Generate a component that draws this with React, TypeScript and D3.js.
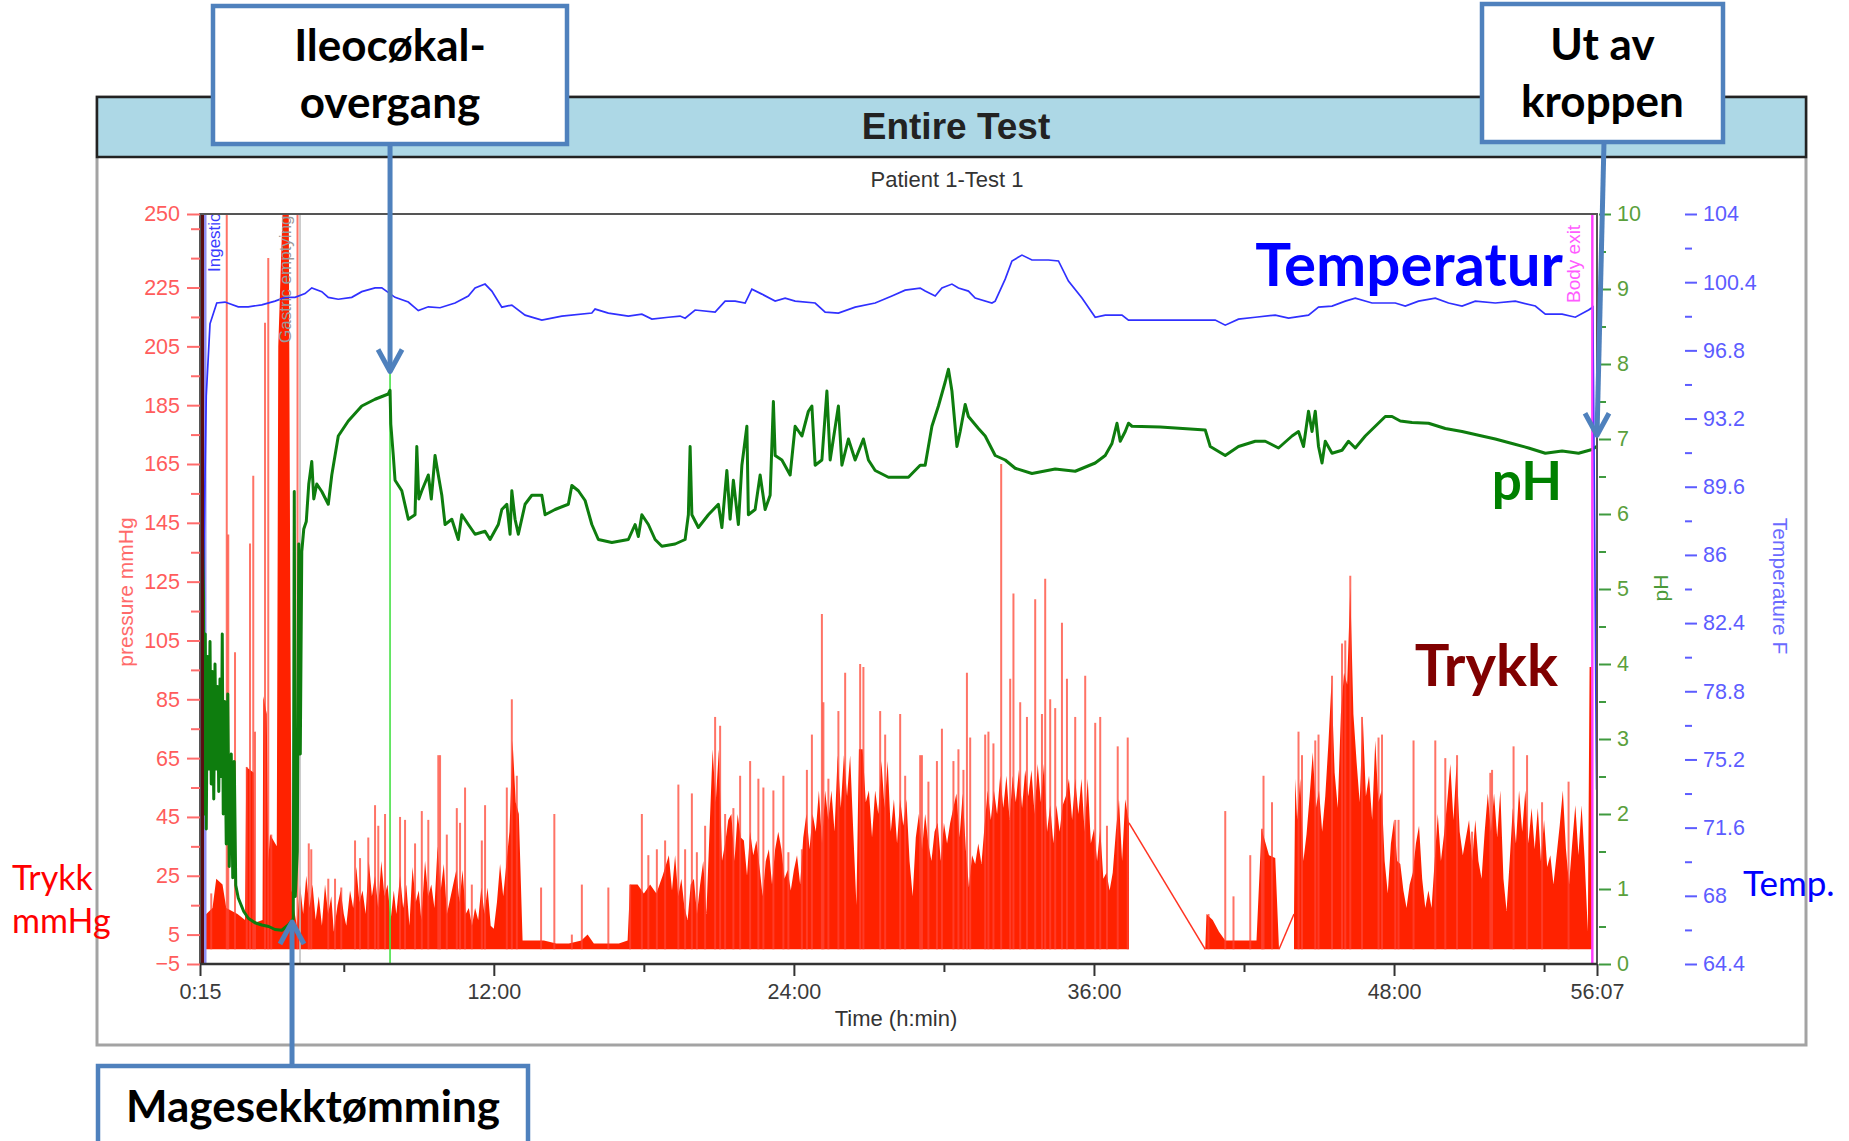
import React, { useRef, useEffect } from 'react';
import * as d3 from 'd3';

// all times are hours since start (0:15 .. 56:07)
type Pt = [number, number];

// pressure mmHg (filled), null = gap in the recording
const pressure: (Pt | null)[] = [
  [0.25, 11], [0.5, 12], [0.75, 14], [0.9, 24], [1.15, 22], [1.3, 14], [1.75, 12], [2.05, 10], [2.1, 62], [2.4, 60],
  [2.45, 9], [2.75, 10], [2.78, 86], [2.92, 80], [2.98, 30], [3.05, 39], [3.32, 35], [3.38, 205], [3.55, 250], [3.8, 250],
  [3.86, 120], [3.92, 20], [4.0, 14], [4.125, 8], [4.25, 22], [4.375, 12], [4.5, 25], [4.625, 14], [4.75, 22], [4.875, 10],
  [5.0, 18], [5.125, 8], [5.25, 22], [5.375, 12], [5.5, 18], [5.6, 6], [5.75, 15], [5.875, 20], [6.0, 12], [6.1, 8],
  [6.25, 20], [6.375, 14], [6.5, 28], [6.625, 16], [6.75, 20], [6.875, 12], [7.0, 30], [7.125, 18], [7.25, 25], [7.375, 14],
  [7.5, 30], [7.625, 18], [7.75, 22], [7.875, 10], [8.0, 20], [8.1, 12], [8.25, 25], [8.375, 14], [8.5, 22], [8.625, 8],
  [8.75, 28], [8.875, 16], [9.0, 20], [9.1, 10], [9.25, 30], [9.375, 18], [9.5, 22], [9.625, 14], [9.75, 35], [9.875, 20],
  [10.0, 29], [10.125, 12], [10.25, 17], [10.375, 22], [10.5, 27], [10.625, 16], [10.75, 27], [10.875, 12], [11.0, 14], [11.125, 8],
  [11.25, 14], [11.375, 10], [11.5, 21], [11.625, 12], [11.75, 21], [11.875, 8], [12.0, 7], [12.125, 16], [12.25, 29], [12.375, 18],
  [12.5, 29], [12.625, 40], [12.75, 71], [12.875, 50], [13.0, 46], [13.15, 3], [13.5, 3], [14.0, 3], [14.5, 2], [15.0, 2],
  [15.5, 3], [15.75, 5], [16.0, 2], [16.5, 2], [17.0, 2], [17.35, 3], [17.45, 22], [17.75, 22], [18.0, 19], [18.25, 22],
  [18.5, 19], [18.75, 25],
  [19.0, 32], [19.125, 20], [19.25, 32], [19.375, 18], [19.5, 24], [19.625, 14], [19.75, 10], [19.875, 22], [20.0, 24], [20.125, 12],
  [20.25, 22], [20.375, 30], [20.5, 12], [20.625, 40], [20.75, 68], [20.875, 50], [21.0, 68], [21.125, 30], [21.25, 36], [21.375, 44],
  [21.5, 46], [21.625, 30], [21.75, 46], [21.875, 38], [22.0, 37], [22.125, 25], [22.25, 40], [22.375, 32], [22.5, 37], [22.625, 28],
  [22.75, 18], [22.875, 30], [23.0, 34], [23.125, 22], [23.25, 34], [23.375, 40], [23.5, 34], [23.625, 24], [23.75, 27], [23.875, 20],
  [24.0, 27], [24.125, 32], [24.25, 22], [24.375, 38], [24.5, 46], [24.625, 34], [24.75, 46], [24.875, 40], [25.0, 54], [25.125, 36],
  [25.25, 54], [25.375, 44], [25.5, 54], [25.625, 40], [25.75, 66], [25.875, 48], [26.0, 66], [26.125, 52], [26.25, 66], [26.375, 40],
  [26.5, 15], [26.6, 68], [26.75, 68], [26.875, 50], [27.0, 54], [27.125, 38], [27.25, 54], [27.375, 46], [27.5, 64], [27.625, 48],
  [27.75, 64], [27.875, 40], [28.0, 51], [28.125, 36], [28.25, 51], [28.375, 42], [28.5, 51], [28.625, 30], [28.75, 18], [28.875, 38],
  [29.0, 46], [29.125, 34], [29.25, 46], [29.375, 36], [29.5, 30], [29.625, 40], [29.75, 43], [29.875, 30], [30.0, 43], [30.125, 36],
  [30.25, 43], [30.375, 48], [30.5, 53], [30.625, 38], [30.75, 53], [30.875, 34], [31.0, 21], [31.125, 32], [31.25, 29], [31.375, 36],
  [31.5, 29], [31.625, 42], [31.75, 54], [31.875, 44], [32.0, 54], [32.125, 46], [32.25, 59], [32.375, 48], [32.5, 59], [32.625, 44],
  [32.75, 59], [32.875, 50], [33.0, 61], [33.125, 48], [33.25, 61], [33.375, 52], [33.5, 61], [33.625, 46], [33.75, 63], [33.875, 50],
  [34.0, 63], [34.125, 40], [34.25, 49], [34.375, 36], [34.5, 49], [34.625, 40], [34.75, 49], [34.875, 52], [35.0, 58], [35.125, 44],
  [35.25, 58], [35.375, 46], [35.5, 58], [35.625, 40], [35.75, 58], [35.875, 36], [36.0, 41], [36.125, 30], [36.25, 41], [36.375, 24],
  [36.5, 26], [36.625, 20], [36.75, 26], [36.875, 40], [37.0, 51], [37.125, 30], [37.25, 51], [37.4, 43],
  null,
  [40.45, 0], [40.5, 12], [40.75, 10], [41.0, 6], [41.25, 3], [41.5, 3], [42.0, 3], [42.5, 3], [42.7, 41], [43.0, 32],
  [43.25, 31], [43.4, 0],
  null,
  [44.0, 12], [44.05, 58], [44.125, 44], [44.25, 58], [44.375, 30], [44.5, 39], [44.625, 52], [44.75, 67], [44.875, 48], [45.0, 54],
  [45.125, 40], [45.25, 52], [45.375, 70], [45.5, 91], [45.625, 60], [45.75, 48], [45.875, 80], [46.0, 94], [46.125, 90], [46.25, 123],
  [46.375, 80], [46.5, 64], [46.625, 50], [46.75, 79], [46.875, 52], [47.0, 59], [47.125, 44], [47.25, 71], [47.375, 50], [47.5, 54],
  [47.625, 30], [47.75, 19], [47.875, 36], [48.0, 44], [48.125, 30], [48.25, 29], [48.375, 20], [48.5, 14], [48.625, 22], [48.75, 26],
  [48.875, 36], [49.0, 42], [49.125, 24], [49.25, 14], [49.375, 20], [49.5, 14], [49.625, 30], [49.75, 46], [49.875, 30], [50.0, 39],
  [50.125, 50], [50.25, 63], [50.375, 44], [50.5, 63], [50.625, 40], [50.75, 32], [50.875, 38], [51.0, 44], [51.125, 30], [51.25, 44],
  [51.375, 30], [51.5, 24], [51.625, 40], [51.75, 53], [51.875, 40], [52.0, 53], [52.125, 38], [52.25, 54], [52.375, 24], [52.5, 13],
  [52.625, 30], [52.75, 48], [52.875, 36], [53.0, 54], [53.125, 40], [53.25, 54], [53.375, 36], [53.5, 48], [53.625, 34], [53.75, 48],
  [53.875, 30], [54.0, 44], [54.125, 28], [54.25, 32], [54.375, 22], [54.5, 32], [54.625, 42], [54.75, 54], [54.875, 34], [55.0, 22],
  [55.125, 36], [55.25, 49], [55.375, 32], [55.5, 49], [55.625, 30], [55.75, 6], [55.82, 96], [55.9, 96], [55.95, 0],
];

// thin pressure peaks above the filled mass
const pressureSpikes: Pt[] = [
  [0.7, 19], [1.32, 260], [1.38, 141], [1.65, 101], [2.12, 62], [2.25, 138], [2.38, 161], [2.45, 74], [2.85, 213], [2.98, 235],
  [3.1, 39], [4.15, 260], [4.6, 36], [4.7, 34], [5.38, 24], [5.65, 24], [5.9, 21], [6.45, 37], [6.65, 31], [6.98, 38],
  [7.25, 49], [7.38, 42], [7.65, 46], [8.25, 45], [8.45, 44], [8.85, 36], [9.12, 47], [9.38, 44], [9.78, 66], [9.85, 66],
  [10.12, 39], [10.52, 48], [10.65, 43], [10.85, 55], [11.12, 22], [11.52, 37], [11.65, 49], [12.52, 55], [12.72, 85], [12.92, 59],
  [13.89, 21], [14.42, 46], [15.12, 5], [15.52, 22], [16.58, 21], [17.45, 22], [17.92, 46], [18.18, 32], [18.52, 34], [18.85, 37],
  [19.38, 56], [19.65, 34], [19.92, 53], [20.12, 33], [20.45, 42], [20.85, 79], [21.05, 76], [21.25, 46], [21.58, 48], [21.85, 59],
  [22.25, 64], [22.58, 58], [22.78, 55], [23.18, 54], [23.58, 59], [23.78, 33], [24.32, 34], [24.52, 61], [24.72, 73], [25.12, 114],
  [25.18, 84], [25.38, 58], [25.78, 81], [26.05, 94], [26.65, 97], [26.78, 96], [27.45, 81], [27.65, 73], [28.25, 80], [28.45, 59],
  [29.05, 66], [29.12, 66], [29.38, 57], [29.72, 64], [29.92, 75], [30.38, 64], [30.58, 68], [30.78, 61], [30.92, 94], [31.05, 72],
  [31.65, 73], [31.78, 74], [31.98, 70], [32.29, 165], [32.65, 92], [32.78, 121], [33.05, 84], [33.32, 79], [33.65, 119], [33.92, 80],
  [34.05, 126], [34.25, 85], [34.45, 82], [34.72, 111], [34.92, 92], [35.25, 79], [35.65, 93], [36.05, 77], [36.25, 79], [36.52, 42],
  [36.95, 69], [37.35, 72], [40.58, 12], [41.25, 47], [41.58, 18], [42.25, 32], [42.72, 41], [42.78, 59], [43.12, 50], [44.18, 74],
  [44.32, 66], [44.85, 71], [44.98, 73], [45.52, 93], [45.92, 104], [46.05, 105], [46.25, 127], [46.72, 79], [47.38, 72], [47.52, 73],
  [48.05, 44], [48.18, 44], [48.78, 71], [49.65, 71], [50.05, 65], [50.52, 66], [51.12, 40], [51.85, 60], [51.92, 61], [52.78, 69],
  [53.32, 66], [53.92, 50], [54.98, 57],
];

const phData: Pt[] = [
  [0.25, 6.1], [0.38, 6.0], [0.42, 2.0], [0.46, 4.4], [0.5, 1.8], [0.55, 4.1], [0.6, 2.6], [0.65, 4.3], [0.7, 2.4], [0.75, 3.9],
  [0.8, 2.2], [0.85, 4.0], [0.9, 2.6], [0.95, 3.7], [1.0, 2.3], [1.05, 3.8], [1.1, 2.5], [1.14, 4.4], [1.18, 2.0], [1.24, 3.5],
  [1.3, 1.6], [1.36, 3.6], [1.42, 1.3], [1.5, 2.8], [1.56, 1.15], [1.62, 2.7], [1.68, 1.05], [1.78, 0.88], [2.0, 0.7], [2.18, 0.61],
  [2.45, 0.55], [2.72, 0.52], [3.0, 0.5], [3.25, 0.46], [3.52, 0.45], [3.78, 0.52], [3.98, 0.6], [4.02, 6.3], [4.06, 0.9], [4.14, 1.5],
  [4.2, 5.6], [4.26, 2.8], [4.32, 5.5], [4.4, 5.8], [4.5, 5.9], [4.6, 6.4], [4.72, 6.7], [4.8, 6.2], [4.92, 6.4], [5.12, 6.3],
  [5.38, 6.13], [5.52, 6.52], [5.78, 7.04], [6.18, 7.24], [6.72, 7.44], [7.25, 7.53], [7.78, 7.6], [7.85, 7.65], [7.88, 7.2], [7.98, 6.78],
  [8.05, 6.45], [8.32, 6.31], [8.58, 5.93], [8.85, 5.99], [8.92, 6.9], [9.0, 6.2], [9.12, 6.31], [9.38, 6.52], [9.5, 6.2], [9.65, 6.78],
  [9.78, 6.52], [9.92, 6.25], [10.05, 5.86], [10.32, 5.93], [10.58, 5.66], [10.72, 5.99], [10.98, 5.86], [11.25, 5.73], [11.65, 5.77], [11.85, 5.66],
  [12.18, 5.86], [12.32, 6.06], [12.52, 6.13], [12.65, 5.73], [12.72, 6.31], [12.85, 5.93], [12.98, 5.73], [13.25, 6.13], [13.52, 6.25], [13.92, 6.25],
  [14.05, 5.99], [14.45, 6.06], [14.98, 6.13], [15.12, 6.38], [15.38, 6.31], [15.65, 6.18], [15.92, 5.86], [16.18, 5.66], [16.72, 5.62], [17.38, 5.66],
  [17.65, 5.86], [17.78, 5.7], [17.92, 5.99], [18.18, 5.86], [18.45, 5.66], [18.72, 5.57], [19.25, 5.6], [19.65, 5.66], [19.78, 5.99], [19.85, 6.9],
  [19.92, 5.99], [20.18, 5.82], [20.58, 5.99], [20.98, 6.13], [21.12, 5.82], [21.32, 6.58], [21.45, 5.93], [21.58, 6.45], [21.78, 5.86], [21.92, 6.65],
  [22.12, 7.17], [22.18, 5.99], [22.45, 6.06], [22.65, 6.52], [22.85, 6.06], [23.05, 6.25], [23.18, 7.5], [23.25, 6.78], [23.52, 6.72], [23.85, 6.52],
  [24.05, 7.17], [24.32, 7.04], [24.58, 7.37], [24.72, 7.44], [24.85, 6.65], [25.12, 6.72], [25.32, 7.64], [25.45, 6.72], [25.78, 7.44], [25.92, 6.65],
  [26.18, 7.0], [26.45, 6.72], [26.78, 7.0], [26.98, 6.72], [27.25, 6.58], [27.78, 6.49], [28.58, 6.49], [29.05, 6.65], [29.25, 6.65], [29.52, 7.17],
  [29.78, 7.44], [30.05, 7.76], [30.18, 7.93], [30.32, 7.64], [30.52, 6.9], [30.65, 7.1], [30.85, 7.46], [30.98, 7.3], [31.38, 7.14], [31.65, 7.04],
  [32.05, 6.78], [32.45, 6.72], [32.85, 6.61], [33.52, 6.54], [34.45, 6.6], [35.25, 6.57], [36.05, 6.68], [36.45, 6.78], [36.72, 6.94], [36.92, 7.21],
  [37.05, 6.97], [37.25, 7.1], [37.38, 7.21], [37.52, 7.17], [38.65, 7.16], [40.45, 7.12], [40.65, 6.9], [41.25, 6.78], [41.78, 6.9], [42.45, 6.97],
  [42.85, 6.97], [43.38, 6.88], [43.92, 7.04], [44.18, 7.1], [44.38, 6.9], [44.58, 7.37], [44.72, 7.1], [44.85, 7.37], [44.98, 6.9], [45.12, 6.68],
  [45.25, 6.97], [45.52, 6.81], [45.92, 6.85], [46.18, 6.97], [46.45, 6.88], [46.85, 7.04], [47.25, 7.17], [47.65, 7.3], [47.92, 7.3], [48.25, 7.24],
  [48.72, 7.22], [49.38, 7.21], [50.05, 7.14], [50.72, 7.1], [51.38, 7.05], [52.05, 7.0], [52.72, 6.94], [53.38, 6.88], [54.05, 6.81], [54.72, 6.84],
  [55.38, 6.81], [55.92, 6.86], [56.1, 6.9],
];

const tempData: Pt[] = [
  [0.25, 73.6], [0.35, 81.4], [0.5, 94.4], [0.65, 98.2], [0.92, 99.3], [1.25, 99.35], [1.78, 99.1], [2.18, 99.1], [2.72, 99.2], [3.25, 99.4],
  [3.65, 99.6], [4.05, 99.6], [4.45, 99.8], [4.72, 100.1], [5.12, 99.9], [5.38, 99.6], [5.78, 99.5], [6.32, 99.6], [6.72, 99.9], [7.25, 100.1],
  [7.52, 100.1], [8.05, 99.6], [8.58, 99.35], [8.98, 98.9], [9.38, 99.1], [9.85, 99.05], [10.45, 99.3], [10.98, 99.67], [11.25, 100.09], [11.65, 100.3],
  [11.92, 99.93], [12.32, 99.08], [12.72, 99.19], [13.25, 98.66], [13.65, 98.5], [13.92, 98.4], [14.72, 98.61], [15.92, 98.77], [16.05, 98.98], [16.58, 98.77],
  [17.38, 98.61], [17.92, 98.71], [18.32, 98.45], [18.98, 98.55], [19.45, 98.61], [19.65, 98.5], [20.05, 98.93], [20.85, 98.82], [21.25, 99.4], [21.65, 99.4],
  [22.05, 99.3], [22.32, 100.03], [22.72, 99.77], [23.25, 99.4], [23.65, 99.56], [24.05, 99.4], [24.85, 99.3], [25.25, 98.82], [25.78, 98.77], [26.45, 99.08],
  [27.25, 99.3], [27.92, 99.67], [28.45, 99.98], [29.05, 100.09], [29.25, 99.93], [29.65, 99.67], [29.92, 100.09], [30.32, 100.3], [30.58, 100.09], [30.98, 99.93],
  [31.25, 99.56], [31.92, 99.3], [32.05, 99.4], [32.45, 100.56], [32.72, 101.52], [33.12, 101.83], [33.52, 101.57], [34.18, 101.57], [34.58, 101.52], [34.98, 100.46],
  [35.52, 99.56], [36.05, 98.55], [36.45, 98.66], [37.12, 98.66], [37.38, 98.4], [38.65, 98.4], [40.85, 98.4], [41.25, 98.13], [41.78, 98.45], [42.45, 98.55],
  [43.25, 98.66], [43.78, 98.5], [44.58, 98.66], [44.98, 99.08], [45.52, 99.14], [46.05, 99.4], [46.45, 99.56], [47.12, 99.3], [47.78, 99.3], [48.05, 99.3],
  [48.45, 99.14], [48.98, 99.4], [49.65, 99.56], [50.18, 99.3], [50.72, 99.14], [51.25, 99.4], [52.05, 99.3], [52.85, 99.4], [53.65, 99.14], [54.05, 98.71],
  [54.72, 98.71], [55.25, 98.55], [55.78, 98.93], [55.95, 99.08], [56.03, 86], [56.1, 73.6],
];

const timeTicks = [0.25, 12, 24, 36, 48, 56.1167];
const timeLabels = ['0:15', '12:00', '24:00', '36:00', '48:00', '56:07'];
const timeMinor = [6, 18, 30, 42, 54];
const pressureTicks = [250, 225, 205, 185, 165, 145, 125, 105, 85, 65, 45, 25, 5, -5];
const pressureMinor = [245, 235, 215, 195, 175, 155, 135, 115, 95, 75, 55, 35, 15];
const phTicks = [0, 1, 2, 3, 4, 5, 6, 7, 8, 9, 10];
const phMinor = [0.5, 1.5, 2.5, 3.5, 4.5, 5.5, 6.5, 7.5, 8.5, 9.5];
const tempTicks = [64.4, 68, 71.6, 75.2, 78.8, 82.4, 86, 89.6, 93.2, 96.8, 100.4, 104];
const tempLabels = ['64.4', '68', '71.6', '75.2', '78.8', '82.4', '86', '89.6', '93.2', '96.8', '100.4', '104'];
const tempMinor = [66.2, 69.8, 73.4, 77, 80.6, 84.2, 87.8, 91.4, 95, 98.6, 102.2];

const events = [
  { t: 0.45, label: 'Ingestion', line: '#8f8ff2', text: '#3b3bff', dx: 15, width: 3, base: 272, size: 17 },
  { t: 4.25, label: 'Gastric emptying', line: '#bdbdbd', text: '#9a9a9a', dx: -9, width: 1.5, base: 343, size: 17 },
  { t: 7.85, label: '', line: '#45e045', text: '#45e045', dx: 0, width: 1.6, base: 0, size: 0 },
  { t: 55.93, label: 'Body exit', line: '#ff3dff', text: '#ff5cff', dx: -12, width: 2, base: 303, size: 19 },
];

const ileoTime = 7.85;
const gastricTime = 3.93;
const exitTime = 56.1167;

const W = 1849;
const H = 1141;
const plot = { left: 200, right: 1597, top: 214, bottom: 964 };
const tickFont = '"Liberation Sans", Arial, sans-serif';
const callFont = 'Lato, "Open Sans", sans-serif';
const calloutBlue = '#4f81bd';

const App = () => {
  const ref = useRef<SVGSVGElement>(null);

  useEffect(() => {
    if (!ref.current) return;
    const svg = d3.select(ref.current);
    svg.selectAll('*').remove();

    const x = d3.scaleLinear().domain([0.25, 56.1167]).range([plot.left, plot.right]);
    const yP = d3.scaleLinear().domain([-5, 250]).range([plot.bottom, plot.top]);
    const yPH = d3.scaleLinear().domain([0, 10]).range([plot.bottom, plot.top]);
    const yT = d3.scaleLinear().domain([64.4, 104]).range([plot.bottom, plot.top]);

    // outer frame and title band
    svg.append('rect').attr('x', 97).attr('y', 97).attr('width', 1709).attr('height', 948)
      .attr('fill', '#fff').attr('stroke', '#a3a3a3').attr('stroke-width', 3);
    svg.append('rect').attr('x', 97).attr('y', 97).attr('width', 1709).attr('height', 60)
      .attr('fill', '#add8e6').attr('stroke', '#222').attr('stroke-width', 2.5);
    svg.append('text').attr('x', 956).attr('y', 139).attr('text-anchor', 'middle')
      .attr('font-family', tickFont).attr('font-weight', 'bold').attr('font-size', 37).attr('fill', '#222')
      .text('Entire Test');
    svg.append('text').attr('x', 947).attr('y', 187).attr('text-anchor', 'middle')
      .attr('font-family', tickFont).attr('font-size', 22).attr('fill', '#333')
      .text('Patient 1-Test 1');

    svg.append('defs').append('clipPath').attr('id', 'plotClip')
      .append('rect').attr('x', plot.left).attr('y', plot.top)
      .attr('width', plot.right - plot.left).attr('height', plot.bottom - plot.top);

    const g = svg.append('g').attr('clip-path', 'url(#plotClip)');

    // pressure mass
    const area = d3.area<Pt | null>()
      .defined(d => d !== null)
      .x(d => x((d as Pt)[0]))
      .y0(yP(0))
      .y1(d => yP((d as Pt)[1]));
    g.append('path').attr('d', area(pressure) as string).attr('fill', '#ff2200');

    // straight lines bridging the gaps
    pressure.forEach((d, i) => {
      if (d === null) {
        const a = pressure[i - 1] as Pt;
        const b = pressure[i + 1] as Pt;
        g.append('line').attr('x1', x(a[0])).attr('y1', yP(a[1])).attr('x2', x(b[0])).attr('y2', yP(b[1]))
          .attr('stroke', '#ff3322').attr('stroke-width', 1.5);
      }
    });

    g.selectAll('.spike').data(pressureSpikes).enter().append('line')
      .attr('x1', d => x(d[0])).attr('x2', d => x(d[0]))
      .attr('y1', yP(0)).attr('y2', d => yP(d[1]))
      .attr('stroke', '#ff4433').attr('stroke-opacity', 0.75).attr('stroke-width', 2);

    // event markers
    events.forEach(e => {
      g.append('line').attr('x1', x(e.t)).attr('x2', x(e.t)).attr('y1', plot.top).attr('y2', plot.bottom)
        .attr('stroke', e.line).attr('stroke-width', e.width);
    });

    g.append('path').datum(phData)
      .attr('d', d3.line<Pt>().x(d => x(d[0])).y(d => yPH(d[1])))
      .attr('fill', 'none').attr('stroke', '#0e7d0e').attr('stroke-width', 3).attr('stroke-linejoin', 'round');

    g.append('path').datum(tempData)
      .attr('d', d3.line<Pt>().x(d => x(d[0])).y(d => yT(d[1])))
      .attr('fill', 'none').attr('stroke', '#3030ff').attr('stroke-width', 1.7);

    // body exit line drawn again on top
    const exitEv = events[3];
    g.append('line').attr('x1', x(exitEv.t)).attr('x2', x(exitEv.t)).attr('y1', plot.top).attr('y2', plot.bottom)
      .attr('stroke', exitEv.line).attr('stroke-width', exitEv.width);

    events.filter(e => e.label).forEach(e => {
      g.append('text')
        .attr('transform', `translate(${x(e.t) + e.dx},${e.base}) rotate(-90)`)
        .attr('font-family', tickFont).attr('font-size', e.size)
        .attr('fill', e.text).text(e.label);
    });

    // plot frame
    svg.append('line').attr('x1', plot.left + 2).attr('x2', plot.left + 2).attr('y1', plot.top).attr('y2', plot.bottom)
      .attr('stroke', '#5a0f12').attr('stroke-width', 4);
    svg.append('rect').attr('x', plot.left).attr('y', plot.top)
      .attr('width', plot.right - plot.left).attr('height', plot.bottom - plot.top)
      .attr('fill', 'none').attr('stroke', '#555').attr('stroke-width', 2);

    const styleAxis = (sel: any, color: string, text: string) => {
      sel.select('.domain').remove();
      sel.selectAll('line').attr('stroke', color).attr('stroke-width', 2);
      sel.selectAll('text').attr('fill', text).attr('font-size', 21.5).attr('font-family', tickFont);
    };

    // x axis
    const xa = svg.append('g').attr('transform', `translate(0,${plot.bottom})`)
      .call(d3.axisBottom(x).tickValues(timeTicks).tickSize(12).tickPadding(8)
        .tickFormat((_, i) => timeLabels[i]));
    styleAxis(xa, '#333', '#3a3a3a');
    const xm = svg.append('g').attr('transform', `translate(0,${plot.bottom})`)
      .call(d3.axisBottom(x).tickValues(timeMinor).tickSize(8).tickFormat(() => ''));
    styleAxis(xm, '#333', '#333');
    svg.append('line').attr('x1', plot.left).attr('x2', plot.right).attr('y1', plot.bottom).attr('y2', plot.bottom)
      .attr('stroke', '#333').attr('stroke-width', 2.5);
    svg.append('text').attr('x', 896).attr('y', 1026).attr('text-anchor', 'middle')
      .attr('font-family', tickFont).attr('font-size', 22).attr('fill', '#333').text('Time (h:min)');

    // pressure axis
    const pa = svg.append('g').attr('transform', `translate(${plot.left},0)`)
      .call(d3.axisLeft(yP).tickValues(pressureTicks).tickSize(13).tickPadding(7));
    styleAxis(pa, '#ff6b6b', '#ff5c5c');
    const pm = svg.append('g').attr('transform', `translate(${plot.left},0)`)
      .call(d3.axisLeft(yP).tickValues(pressureMinor).tickSize(9).tickFormat(() => ''));
    styleAxis(pm, '#ff6b6b', '#ff5c5c');
    svg.append('text').attr('transform', 'translate(133,592) rotate(-90)').attr('text-anchor', 'middle')
      .attr('font-family', tickFont).attr('font-size', 21).attr('fill', '#ff6a6a').text('pressure mmHg');

    // pH axis
    const ha = svg.append('g').attr('transform', `translate(${plot.right + 2},0)`)
      .call(d3.axisRight(yPH).tickValues(phTicks).tickSize(12).tickPadding(6));
    styleAxis(ha, '#3f9a3f', '#5aa03c');
    const hm = svg.append('g').attr('transform', `translate(${plot.right + 2},0)`)
      .call(d3.axisRight(yPH).tickValues(phMinor).tickSize(7).tickFormat(() => ''));
    styleAxis(hm, '#3f9a3f', '#5aa03c');
    svg.append('text').attr('transform', 'translate(1668,588) rotate(-90)').attr('text-anchor', 'middle')
      .attr('font-family', tickFont).attr('font-size', 21).attr('fill', '#4a9a3a').text('pH');

    // temperature axis
    const ta = svg.append('g').attr('transform', 'translate(1685,0)')
      .call(d3.axisRight(yT).tickValues(tempTicks).tickSize(12).tickPadding(6)
        .tickFormat((_, i) => tempLabels[i]));
    styleAxis(ta, '#5c5cff', '#5c5cff');
    const tm = svg.append('g').attr('transform', 'translate(1685,0)')
      .call(d3.axisRight(yT).tickValues(tempMinor).tickSize(7).tickFormat(() => ''));
    styleAxis(tm, '#5c5cff', '#5c5cff');
    svg.append('text').attr('transform', 'translate(1773,586) rotate(90)').attr('text-anchor', 'middle')
      .attr('font-family', tickFont).attr('font-size', 21).attr('fill', '#6a6aff').text('Temperature F');

    // series names inside the plot
    svg.append('text').attr('x', 1563).attr('y', 286).attr('text-anchor', 'end')
      .attr('font-family', callFont).attr('font-weight', 'bold').attr('font-size', 60).attr('fill', '#0000ff').text('Temperatur');
    svg.append('text').attr('x', 1562).attr('y', 500).attr('text-anchor', 'end')
      .attr('font-family', callFont).attr('font-weight', 'bold').attr('font-size', 53).attr('fill', '#008000').text('pH');
    svg.append('text').attr('x', 1558).attr('y', 686).attr('text-anchor', 'end')
      .attr('font-family', callFont).attr('font-weight', 'bold').attr('font-size', 58).attr('fill', '#800000').text('Trykk');

    svg.append('text').attr('x', 12).attr('y', 890)
      .attr('font-family', callFont).attr('font-size', 34).attr('fill', '#ff0000').text('Trykk');
    svg.append('text').attr('x', 12).attr('y', 933)
      .attr('font-family', callFont).attr('font-size', 34).attr('fill', '#ff0000').text('mmHg');
    svg.append('text').attr('x', 1743).attr('y', 896)
      .attr('font-family', callFont).attr('font-size', 35).attr('fill', '#0000ff').text('Temp.');

    // callouts
    const arrow = (x1: number, y1: number, x2: number, y2: number) => {
      const dir = y2 > y1 ? -1 : 1;
      svg.append('line').attr('x1', x1).attr('y1', y1).attr('x2', x2).attr('y2', y2)
        .attr('stroke', calloutBlue).attr('stroke-width', 5);
      svg.append('path')
        .attr('d', `M${x2 - 12},${y2 + dir * 22}L${x2},${y2}L${x2 + 12},${y2 + dir * 22}`)
        .attr('fill', 'none').attr('stroke', calloutBlue).attr('stroke-width', 5).attr('stroke-linejoin', 'round');
    };
    const box = (bx: number, by: number, bw: number, bh: number, lines: string[], baselines: number[]) => {
      svg.append('rect').attr('x', bx).attr('y', by).attr('width', bw).attr('height', bh)
        .attr('fill', '#fff').attr('stroke', calloutBlue).attr('stroke-width', 4.5);
      lines.forEach((l, i) => {
        svg.append('text').attr('x', bx + bw / 2).attr('y', baselines[i]).attr('text-anchor', 'middle')
          .attr('font-family', callFont).attr('font-weight', 'bold').attr('font-size', 44).attr('fill', '#000').text(l);
      });
    };

    arrow(x(ileoTime), 144, x(ileoTime), yPH(7.9));
    box(213, 6, 354, 138, ['Ileocøkal-', 'overgang'], [61, 118]);

    arrow(x(exitTime) + 7, 142, x(exitTime), yPH(7.05));
    box(1482, 4, 241, 138, ['Ut av', 'kroppen'], [60, 117]);

    arrow(x(gastricTime), 1066, x(gastricTime), yPH(0.56));
    box(98, 1066, 430, 110, ['Magesekktømming'], [1122]);
  }, []);

  return (
    <svg ref={ref} width={W} height={H} style={{ position: 'absolute', left: 0, top: 0, background: '#fff' }} />
  );
};

export default App;
